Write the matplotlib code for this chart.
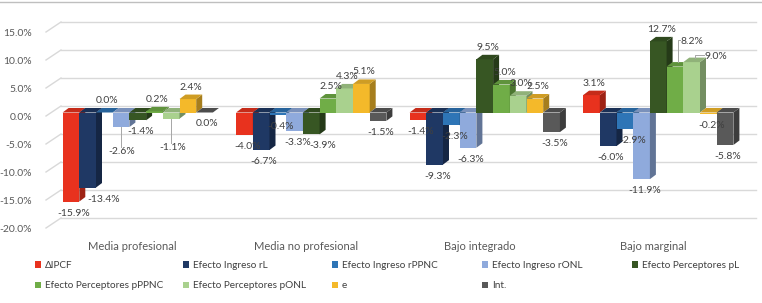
import matplotlib
matplotlib.use("Agg")
import matplotlib.pyplot as plt
from matplotlib.patches import Polygon, Patch
from matplotlib.lines import Line2D
import matplotlib.colors as mcolors
import numpy as np

plt.rcParams['font.family'] = ['Lato', 'DejaVu Sans']

categories = ["Media profesional", "Media no profesional", "Bajo integrado", "Bajo marginal"]
series = ["ΔIPCF", "Efecto Ingreso rL", "Efecto Ingreso rPPNC", "Efecto Ingreso rONL",
          "Efecto Perceptores pL", "Efecto Perceptores pPPNC", "Efecto Perceptores pONL",
          "e", "Int."]
d_ipcf = [-15.9, -4.0, -1.4, 3.1]
ing_rL = [-13.4, -6.7, -9.3, -6.0]
ing_rPPNC = [0.0, -0.4, -2.3, -2.9]
ing_rONL = [-2.6, -3.3, -6.3, -11.9]
per_pL = [-1.4, -3.9, 9.5, 12.7]
per_pPPNC = [0.2, 2.5, 5.0, 8.2]
per_pONL = [-1.1, 4.3, 3.0, 9.0]
e_vals = [2.4, 5.1, 2.5, -0.2]
int_vals = [0.0, -1.5, -3.5, -5.8]
values = [d_ipcf, ing_rL, ing_rPPNC, ing_rONL, per_pL, per_pPPNC, per_pONL, e_vals, int_vals]
colors = ["#E8321E", "#1F3864", "#2E75B6", "#8FAADC", "#375623", "#70AD47", "#A9D18E", "#F4B92A", "#595959"]
yticks = [15, 10, 5, 0, -5, -10, -15, -20]

# label styling tweaks: (series, category) -> (dx px, dy px, leader line)
label_nudge = {(1, 0): (13, 0, False), (3, 0): (-2, 13, True), (6, 0): (-1, 17, True),
               (4, 1): (8, 0, False), (2, 3): (5, 0, False),
               (5, 3): (14, -13, True), (6, 3): (21, 6, True)}
label_below = {(8, 0)}

W, H = 762, 303
fig = plt.figure(figsize=(W / 100, H / 100), dpi=100)
ax_l, ax_r, ax_t, ax_b = 46, 740, 32, 228
ax = fig.add_axes([ax_l / W, 1 - ax_b / H, (ax_r - ax_l) / W, (ax_b - ax_t) / H])
ax.set_xlim(-0.5, 3.5)
ax.set_ylim(-20, 15)
for s in ax.spines.values():
    s.set_visible(False)

pxu = (ax_r - ax_l) / 4.0
pyu = (ax_b - ax_t) / 35.0
bwx, bwy = 15 / pxu, 10 / pyu
bx, by = 5 / pxu, 3.5 / pyu
ddx, ddy = 6 / pxu, 4.5 / pyu

grid_c = "#D9D9D9"
for t in yticks:
    ax.plot([-0.5, -0.5 + bwx], [t, t + bwy], color=grid_c, lw=1.0, clip_on=False, zorder=0)
    ax.plot([-0.5 + bwx, 3.5 + 0.09], [t + bwy, t + bwy], color=grid_c, lw=1.0, clip_on=False, zorder=0)

ax.set_yticks(yticks)
ax.set_yticklabels([f"{t:.1f}%" for t in yticks], color="#595959", fontsize=7.5)
ax.set_xticks(range(4))
ax.set_xticklabels(categories, color="#595959", fontsize=8)
ax.tick_params(length=0)
ax.tick_params(axis='y', pad=10)
ax.tick_params(axis='x', pad=9)

def shade(c, f):
    r, g, b = mcolors.to_rgb(c)
    return (r * f, g * f, b * f)

n = len(series)
bw = 16.7 / pxu
xs = np.arange(4)
z = 2
for i, (vals, col) in enumerate(zip(values, colors)):
    pos = xs + (i - (n - 1) / 2) * bw + bx
    ax.bar(pos, vals, width=bw, bottom=by, color=col, zorder=z, clip_on=False, linewidth=0)
    for j, (p, v) in enumerate(zip(pos, vals)):
        x0, x1 = p - bw / 2, p + bw / 2
        top = max(v, 0) + by
        bot = min(v, 0) + by
        side = Polygon([(x1, bot), (x1 + ddx, bot + ddy), (x1 + ddx, top + ddy), (x1, top)],
                       closed=True, facecolor=shade(col, 0.68), edgecolor='none', zorder=z, clip_on=False)
        topf = Polygon([(x0, top), (x0 + ddx, top + ddy), (x1 + ddx, top + ddy), (x1, top)],
                       closed=True, facecolor=shade(col, 0.85), edgecolor='none', zorder=z, clip_on=False)
        ax.add_patch(side)
        ax.add_patch(topf)
        ndx, ndy, leader = label_nudge.get((i, j), (0, 0, False))
        above = (v >= 0) and (i, j) not in label_below
        if above:
            lx, ly, va = p + ddx / 2, top + ddy + 3 / pyu, 'bottom'
            anchor_y = top + ddy
        else:
            lx, ly, va = p + ddx / 2, bot - 7 / pyu, 'top'
            anchor_y = bot
        tx, ty = lx + ndx / pxu, ly - ndy / pyu
        ax.text(tx, ty, f"{v:.1f}%", ha='center', va=va, fontsize=7.5, color="#404040", zorder=20)
        if leader:
            if above:
                ax.plot([p + ddx / 2, p + ddx / 2, tx - 12 / pxu], [anchor_y, ty + 1.0, ty + 1.0],
                        color="#A6A6A6", lw=0.7, zorder=19, clip_on=False)
            else:
                ax.plot([p, p], [anchor_y, ty], color="#A6A6A6", lw=0.7, zorder=19, clip_on=False)
    z += 1

col_x = [33, 181, 330, 480, 630]
handles = [Patch(facecolor=c, edgecolor='none') for c in colors]
for k, cx in enumerate(col_x):
    idx = [m for m in (k, k + 5) if m < n]
    fig.legend([handles[m] for m in idx], [series[m] for m in idx], loc='upper left',
               bbox_to_anchor=(cx / W, 1 - 259 / H), ncol=1, frameon=False, fontsize=7.2,
               handlelength=0.6, handleheight=0.6, handletextpad=0.4, labelspacing=1.15,
               labelcolor="#404040", borderaxespad=0, borderpad=0.2)

fig.add_artist(Line2D([0, 1], [1 - 1.5 / H, 1 - 1.5 / H], color="#BFBFBF", lw=1))

fig.savefig("out.png", dpi=100)
